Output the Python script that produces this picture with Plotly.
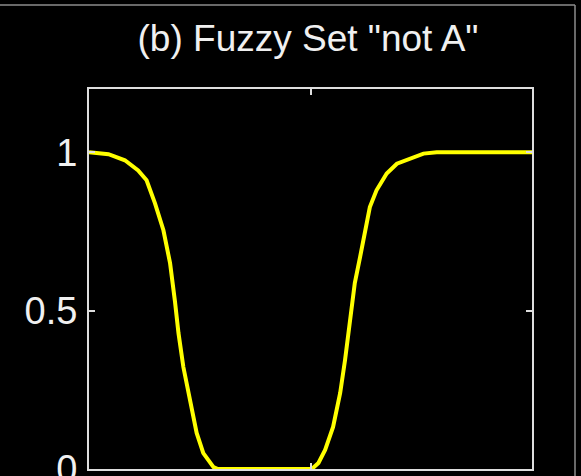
import plotly.graph_objects as go

# Data
x_vals = [0.0, 0.44, 0.81, 1.11, 1.30, 1.49, 1.68, 1.83, 1.94, 2.02, 2.13, 2.28, 2.43, 2.58, 2.81, 2.91,
          5.03, 5.18, 5.33, 5.51, 5.67, 5.78, 5.89, 6.00, 6.12, 6.23, 6.34, 6.49, 6.72, 6.95, 7.25, 7.55, 7.85, 10.0]
mu_vals = [1.0, 0.994, 0.975, 0.943, 0.912, 0.839, 0.754, 0.650, 0.53, 0.429, 0.322, 0.218, 0.114, 0.050, 0.006, 0.0,
           0.0, 0.019, 0.06, 0.133, 0.24, 0.344, 0.46, 0.587, 0.670, 0.754, 0.827, 0.880, 0.933, 0.964, 0.98, 0.996, 1.0, 1.0]
y_ticks = [0, 0.5, 1]
y_tick_labels = ["0", "0.5", "1"]
x_ticks = [0, 5, 10]
title_text = '(b) Fuzzy Set "not A"'

FONT = "Liberation Sans, Arial, sans-serif"
AXC = "#dedede"

fig = go.Figure()
fig.add_trace(go.Scatter(x=x_vals, y=mu_vals, mode="lines",
                         line=dict(color="#ffff00", width=4), showlegend=False,
                         hoverinfo="skip"))

fig.update_layout(
    width=581, height=476,
    margin=dict(l=89, r=49, t=89, b=7, autoexpand=False),
    paper_bgcolor="black", plot_bgcolor="black",
    title=dict(text=title_text, x=308/581, xref="container", xanchor="center",
               y=1-38/476, yref="container", yanchor="middle",
               automargin=False,
               font=dict(family=FONT, size=37, color="#f0f0f0")),
    xaxis=dict(range=[0, 10], tickvals=x_ticks, showticklabels=False,
               ticks="inside", ticklen=6, tickcolor=AXC, tickwidth=1.5,
               showline=True, linecolor=AXC, linewidth=2, mirror="ticks",
               showgrid=False, zeroline=False, fixedrange=True, automargin=False),
    yaxis=dict(range=[0, 1.2], tickvals=y_ticks, ticktext=y_tick_labels,
               ticks="inside", ticklen=6, tickcolor=AXC, tickwidth=1.5,
               showline=True, linecolor=AXC, linewidth=2, mirror="ticks",
               showgrid=False, zeroline=False, ticklabelstandoff=2,
               ticklabeloverflow="allow", automargin=False,
               tickfont=dict(family=FONT, size=38, color="#f0f0f0"), fixedrange=True),
    shapes=[
        dict(type="line", xref="paper", yref="paper", x0=-0.25, x1=(575-89)/443,
             y0=(469-5)/380, y1=(469-5)/380, line=dict(color="#8c8c8c", width=1.5)),
        dict(type="line", xref="paper", yref="paper", x0=(575-89)/443, x1=(575-89)/443,
             y0=(469-5)/380, y1=-0.05, line=dict(color="#8c8c8c", width=1.5)),
    ],
)

fig.write_html("out.html", config={"displayModeBar": False})
